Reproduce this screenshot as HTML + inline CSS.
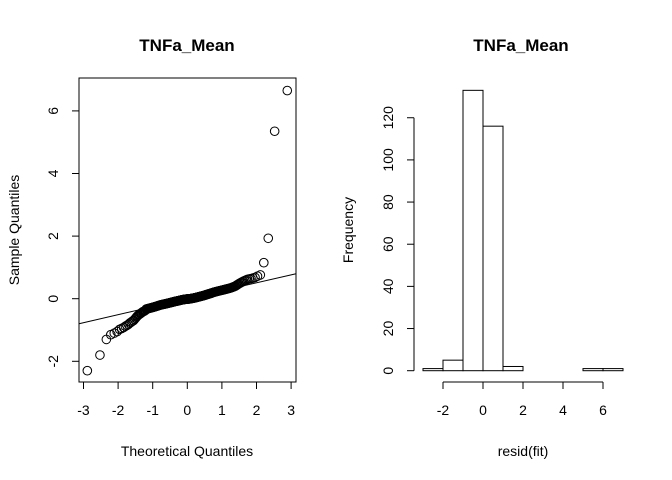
<!DOCTYPE html>
<html><head><meta charset="utf-8"><style>
body{margin:0;background:#fff}
svg{display:block;font-family:"Liberation Sans",Arial,sans-serif}
</style></head><body>
<svg id="c" width="672" height="480" viewBox="0 0 672 480">
<rect width="672" height="480" fill="#fff"/>
<g id="qq"></g>
<g id="hist"></g>
</svg>
<script>
const sampleValues=[-2.3,-1.8,-1.3,-1.15,-1.1,-1.05,
-0.98,-0.95,-0.92,-0.88,-0.85,-0.82,
-0.78,-0.75,-0.72,-0.70,-0.66,-0.62,-0.58,-0.55,
-0.52,-0.50,-0.48,-0.46,-0.44,-0.42,-0.41,-0.40,-0.38,-0.37,
-0.33,-0.325,-0.32,-0.315,-0.31,-0.305,-0.30,-0.295,-0.29,-0.285,-0.28,-0.275,-0.27,-0.265,-0.26,
-0.255,-0.25,-0.245,-0.24,-0.235,-0.23,-0.225,-0.22,-0.215,-0.21,-0.205,-0.20,-0.197,-0.194,-0.19,
-0.187,-0.184,-0.181,-0.178,-0.175,-0.172,-0.169,-0.166,-0.163,-0.160,-0.157,-0.154,-0.151,-0.148,-0.145,-0.142,-0.139,-0.136,-0.133,-0.13,
-0.127,-0.124,-0.121,-0.118,-0.115,-0.112,-0.109,-0.106,-0.103,-0.100,-0.097,-0.094,-0.091,-0.088,-0.085,-0.082,-0.080,-0.078,-0.076,-0.074,
-0.072,-0.069,-0.066,-0.064,-0.061,-0.058,-0.056,-0.053,-0.050,-0.048,-0.045,-0.042,-0.040,-0.037,-0.034,-0.032,-0.030,-0.028,-0.026,-0.024,
-0.022,-0.021,-0.019,-0.018,-0.016,-0.015,-0.013,-0.012,-0.011,-0.010,-0.009,-0.008,-0.007,-0.006,-0.005,-0.004,-0.003,-0.002,-0.001,
0.002,0.004,0.006,0.008,0.010,0.012,0.014,0.016,0.018,0.020,0.022,0.025,0.028,0.030,0.032,0.035,0.038,0.040,0.043,0.046,
0.049,0.052,0.055,0.058,0.061,0.064,0.067,0.070,0.073,0.076,0.079,0.082,0.085,0.088,0.091,0.094,0.097,0.100,0.104,0.108,
0.112,0.116,0.120,0.124,0.128,0.132,0.136,0.140,0.144,0.148,0.152,0.156,0.160,0.164,0.168,0.172,0.176,0.180,0.186,0.192,
0.198,0.202,0.206,0.210,0.214,0.218,0.222,0.226,0.230,0.234,0.238,0.242,0.246,0.250,0.254,0.258,0.262,0.266,0.270,0.274,
0.278,0.283,0.288,0.293,0.298,0.303,0.308,0.313,0.318,0.324,0.33,0.336,0.342,0.35,0.36,0.37,0.38,0.39,0.40,0.42,
0.44,0.46,0.48,0.50,0.52,0.54,0.56,0.58,0.60,0.62,0.63,0.64,0.66,0.68,0.72,0.76,
1.15,1.93,5.35,6.65];
const qqXTicks=[-3,-2,-1,0,1,2,3];
const qqYTicks=[-2,0,2,4,6];
const histBreaks=[-3,-2,-1,0,1,2,3,4,5,6,7];
const histCounts=[1,5,133,116,2,0,0,0,1,1];
const histXTicks=[-2,0,2,4,6];
const histYTicks=[0,20,40,60,80,100,120];

const NS="http://www.w3.org/2000/svg";
function mk(parent,tag,attrs,text){const e=document.createElementNS(NS,tag);for(const k in attrs)e.setAttribute(k,attrs[k]);if(text!==undefined)e.textContent=text;parent.appendChild(e);return e;}
function qnorm(p){const a=[-39.6968302866538,220.946098424521,-275.928510446969,138.357751867269,-30.6647980661472,2.50662827745924],b=[-54.4760987982241,161.585836858041,-155.698979859887,66.8013118877197,-13.2806815528857],c=[-0.00778489400243029,-0.322396458041136,-2.40075827716184,-2.54973253934373,4.37466414146497,2.93816398269878],d=[0.00778469570904146,0.32246712907004,2.445134137143,3.75440866190742];let q,r;
if(p<0.02425){q=Math.sqrt(-2*Math.log(p));return(((((c[0]*q+c[1])*q+c[2])*q+c[3])*q+c[4])*q+c[5])/((((d[0]*q+d[1])*q+d[2])*q+d[3])*q+1);}
if(p>1-0.02425){q=Math.sqrt(-2*Math.log(1-p));return-(((((c[0]*q+c[1])*q+c[2])*q+c[3])*q+c[4])*q+c[5])/((((d[0]*q+d[1])*q+d[2])*q+d[3])*q+1);}
q=p-0.5;r=q*q;return(((((a[0]*r+a[1])*r+a[2])*r+a[3])*r+a[4])*r+a[5])*q/(((((b[0]*r+b[1])*r+b[2])*r+b[3])*r+b[4])*r+1);}

const qq=document.getElementById('qq');
const qx=v=>187.3+v*34.6, qy=v=>298.7-v*31.3;
const L=79,R=296,T=78,B=382;
let t;
t=mk(qq,'text',{x:187,y:51,'text-anchor':'middle','font-size':17,'font-weight':'bold'},'TNFa_Mean');

t=mk(qq,'rect',{x:L,y:T,width:R-L,height:B-T,fill:'none',stroke:'#000'});

mk(qq,'line',{x1:qx(-3),x2:qx(3),y1:B,y2:B,stroke:'#000'});
qqXTicks.forEach(v=>{mk(qq,'line',{x1:qx(v),x2:qx(v),y1:B,y2:B+7,stroke:'#000'});
 const e=mk(qq,'text',{x:qx(v),y:415,'text-anchor':'middle','font-size':14},String(v));
 });
qqYTicks.forEach(v=>{mk(qq,'line',{x1:L,x2:L-7,y1:qy(v),y2:qy(v),stroke:'#000'});
 const e=mk(qq,'text',{x:58,y:qy(v),'text-anchor':'middle','font-size':14,transform:`rotate(-90 58 ${qy(v)})`},String(v));
 });
t=mk(qq,'text',{x:187,y:456,'text-anchor':'middle','font-size':14},'Theoretical Quantiles');

t=mk(qq,'text',{x:19,y:230,'text-anchor':'middle','font-size':14,transform:'rotate(-90 19 230)'},'Sample Quantiles');

const n=sampleValues.length;
const sorted=sampleValues.slice().sort((a,b)=>a-b);
const theo=sorted.map((v,i)=>qnorm((i+0.5)/n));
function quant(p){const h=(n-1)*p,lo=Math.floor(h);return sorted[lo]+(h-lo)*(sorted[Math.min(lo+1,n-1)]-sorted[lo]);}
const slope=(quant(0.75)-quant(0.25))/(qnorm(0.75)-qnorm(0.25));
const icpt=quant(0.25)-slope*qnorm(0.25);
const xa=(L-187.3)/34.6, xb=(R-187.3)/34.6;
t=mk(qq,'line',{x1:L,x2:R,y1:qy(icpt+slope*xa),y2:qy(icpt+slope*xb),stroke:'#000'});

const pts=mk(qq,'g',{});

sorted.forEach((v,i)=>{const c=mk(pts,'circle',{cx:qx(theo[i]),cy:qy(v),r:4.3,fill:'none',stroke:'#000','stroke-width':1});
 });

const h=document.getElementById('hist');
const hx=v=>483+v*20, hy=v=>370.7-v*2.108;
t=mk(h,'text',{x:521,y:51,'text-anchor':'middle','font-size':17,'font-weight':'bold'},'TNFa_Mean');

histCounts.forEach((cnt,i)=>{const x0=hx(histBreaks[i]),x1=hx(histBreaks[i+1]);
 const r=mk(h,'rect',{x:x0,y:hy(cnt),width:x1-x0,height:hy(0)-hy(cnt),fill:'#fff',stroke:'#000'});
 });
mk(h,'line',{x1:hx(histXTicks[0]),x2:hx(histXTicks[histXTicks.length-1]),y1:382,y2:382,stroke:'#000'});
histXTicks.forEach(v=>{mk(h,'line',{x1:hx(v),x2:hx(v),y1:382,y2:389,stroke:'#000'});
 const e=mk(h,'text',{x:hx(v),y:415,'text-anchor':'middle','font-size':14},String(v));
 });
mk(h,'line',{x1:414,x2:414,y1:hy(0),y2:hy(120),stroke:'#000'});
histYTicks.forEach(v=>{mk(h,'line',{x1:414,x2:407,y1:hy(v),y2:hy(v),stroke:'#000'});
 const e=mk(h,'text',{x:393,y:hy(v),'text-anchor':'middle','font-size':14,transform:`rotate(-90 393 ${hy(v)})`},String(v));
 });
t=mk(h,'text',{x:523,y:456,'text-anchor':'middle','font-size':14},'resid(fit)');

t=mk(h,'text',{x:353,y:230,'text-anchor':'middle','font-size':14,transform:'rotate(-90 353 230)'},'Frequency');

</script>
</body></html>
